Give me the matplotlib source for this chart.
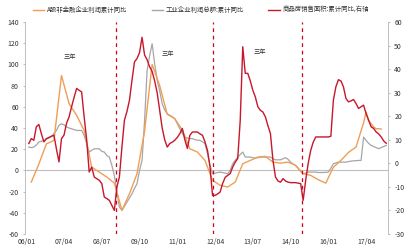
# A股非金融企业利润 / 工业企业利润 / 商品房销售面积 累计同比 - recreated chart
import numpy as np
import matplotlib
matplotlib.use('Agg')
import matplotlib.pyplot as plt
from matplotlib.lines import Line2D

plt.rcParams['font.family'] = ['Noto Sans CJK SC', 'DejaVu Sans']
plt.rcParams['axes.unicode_minus'] = False

# ── data (month index: 0 = 2006/01) ─────────────────────────────────────────
# 商品房销售面积:累计同比 (右轴), monthly from m=1
house_start = 1
house_area = [8.4, 10.5, 9.8, 15.5, 16.5, 12.6, 9.1, 10.5, 11, 11.5,
              11.9, 6, 0.6, 10.5, 12, 17, 19.7, 24, 28, 31.8,
              31, 30.3, 19.7, 10, -3.7, -1.6, -5.8, -6.5, -7.2, -8.6,
              -14.3, -15, -15.7, -17.9, -20, -10, -5.8, 6.9, 18.3, 22,
              26.8, 35.3, 43.1, 44.5, 47, 53.5, 46, 44, 41, 39,
              35, 30, 22.6, 15, 10, 6.9, 8.4, 9, 9.8, 11,
              12.6, 14.8, 10, 6.3, 11.9, 13.3, 13.3, 13.3, 12.5, 11.9,
              9.1, 5.5, -1.6, -13.6, -13.6, -13, -12.2, -8.6, -6, -5.1,
              -4.4, -1.6, 0.5, 2, 18.3, 49.5, 38.2, 38.2, 35, 31,
              28.2, 24, 22.5, 21.8, 19.7, 16, 12.6, 1.3, -5.8, -7.5,
              -8, -6.5, -7.5, -8, -8.2, -8.2, -8.2, -8.4, -8.6, -15.7,
              -7.2, 0, 5.5, 9, 11.2, 11.2, 11.2, 11.2, 11.2, 11.2,
              11.5, 26.8, 32.5, 35.5, 35, 32.5, 27.5, 26.1, 26.5, 27.1,
              25.4, 23.3, 24, 24.7, 21.1, 18.3, 15.5, 14.8, 13.3, 12.5,
              11.2, 9.5, 8.5]

# 工业企业利润总额:累计同比, monthly from m=1
ind_start = 1
ind_profit = [22, 21.5, 22, 24, 26.7, 27.5, 28.3, 29.5, 30.5, 32,
              35, 37.7, 42.5, 44, 43, 41, 40, 39.3, 38.5, 37.7,
              37.7, 37.7, 33, 25, 17.3, 19, 20.4, 20.4, 20.4, 18,
              17.3, 14, 12.6, 4.7, -5, -20, -34.6, -37.7, -34, -29.9,
              -26, -22, -17, -12.5, 0, 9.4, 47, 94, 108, 119.5,
              100.7, 85, 75, 63, 57, 53.5, 52, 50.5, 48.8, 44,
              39.3, 35, 31.4, 30.5, 30, 29.9, 29, 28.5, 28.3, 27,
              25.2, 15.7, 5, -3.1, -2.5, -2, -1.6, -2, -2.5, -3.1,
              0, 6.3, 9.5, 12.6, 15, 17.3, 12.6, 12.6, 12.6, 12,
              11.6, 12, 12.6, 12.6, 12.6, 12.6, 12.6, 11, 10, 10,
              10, 11, 12, 10.5, 7.8, 6, 4.7, 2, -1, -3.1,
              -2.5, -1.6, -1.6, -1.6, -1.6, -2, -2, -2, -1.8, -1.6,
              2, 6.3, 7, 7.8, 7.8, 7.8, 7.8, 8.3, 8.8, 9,
              9.2, 9.4, 9.4, 31.4, 28.3, 25.5, 23.6, 22.5, 21.5, 20.5,
              21.5, 22.5, 23.6]

# A股非金融企业利润累计同比 (mostly quarterly)
ashare_month = [2, 5, 8, 11, 14, 17, 20, 23, 26, 29, 32, 35, 38, 41, 44, 47,
                50, 53, 56, 59, 62, 65, 68, 71, 74, 77, 80, 83, 86, 89, 92, 95,
                98, 101, 104, 107, 110, 113, 116, 119, 122, 125, 128, 131,
                134, 135, 136, 137, 138, 139, 140, 141]
ashare_profit = [-11, 6, 25, 28.3, 89.6, 63, 52, 37.7, 3.1, -1.6, -6.3, -12,
                 -37.7, -22, -3.1, 37, 100, 80, 53, 48.8, 38, 20.4, 17.3, 9.4,
                 -9.4, -14, -15.7, -11, 6.3, 9.4, 12.6, 13.2, 7.8, 6.9, 7.8, 4.7,
                 -3.1, -4.7, -8.8, -12, 3, 9.4, 17, 22, 45, 55, 47, 44, 41,
                 39.3, 39.3, 39]

tick_months = [0, 15, 30, 45, 60, 75, 90, 105, 120, 135]
tick_labels = ['06/01', '07/04', '08/07', '09/10', '11/01',
               '12/04', '13/07', '14/10', '16/01', '17/04']
cycle_marks = [35.5, 74, 109.5]
notes = [(17.5, 107, '三年'), (56.3, 110, '三年'), (92.9, 112, '三年')]

series_names = ['A股非金融企业利润累计同比', '工业企业利润总额:累计同比',
                '商品房销售面积:累计同比,右轴']
C_ORANGE = '#EF9E56'
C_GRAY = '#A6A6A6'
C_RED = '#C8162B'

# ── plot ────────────────────────────────────────────────────────────────────
fig = plt.figure(figsize=(4.12, 2.5), dpi=100)
ax = fig.add_axes([25 / 412, 1 - 234 / 250, 363 / 412, 212 / 250])
ax2 = ax.twinx()

m_house = np.arange(house_start, house_start + len(house_area))
m_ind = np.arange(ind_start, ind_start + len(ind_profit))

ax.axhline(0, color='#BFBFBF', lw=0.8, zorder=1)
ax.plot(ashare_month, ashare_profit, color=C_ORANGE, lw=1.0, zorder=3)
ax.plot(m_ind, ind_profit, color=C_GRAY, lw=0.9, zorder=2)
ax2.plot(m_house, house_area, color=C_RED, lw=1.0, zorder=3)

for xm in cycle_marks:
    ax.axvline(xm, color='#D0021B', lw=0.9, ls=(0, (3, 3)), zorder=4)
for xm, yv, txt in notes:
    ax.text(xm, yv, txt, fontsize=4.5, ha='center', va='center', color='#333333')

ax.set_xlim(-0.5, 143.7)
ax.set_ylim(-60, 140)
ax.set_yticks(range(-60, 141, 20))
ax2.set_ylim(-30, 60)
ax2.set_yticks(range(-30, 61, 10))
ax.set_xticks(tick_months)
ax.set_xticklabels(tick_labels)

for a in (ax, ax2):
    for s in ('top', 'bottom'):
        a.spines[s].set_visible(False)
    for s in ('left', 'right'):
        a.spines[s].set_color('#BFBFBF')
        a.spines[s].set_linewidth(0.6)
    a.tick_params(labelsize=5, colors='#333333', length=0, pad=3)
ax.tick_params(axis='y', length=1.5, color='#BFBFBF')
ax2.tick_params(axis='y', length=1.5, color='#BFBFBF')

# legend drawn by hand across the top
legend_x = [(33, 47), (152, 166), (268, 283)]
for (x0, xt), name, col in zip(legend_x, series_names, [C_ORANGE, C_GRAY, C_RED]):
    fig.add_artist(Line2D([x0 / 412, (xt - 3) / 412], [0.96, 0.96], color=col, lw=1.0))
    fig.text(xt / 412, 0.96, name, fontsize=4.6, va='center', ha='left', color='#333333')

plt.savefig('out.png', dpi=100)
plt.close()
